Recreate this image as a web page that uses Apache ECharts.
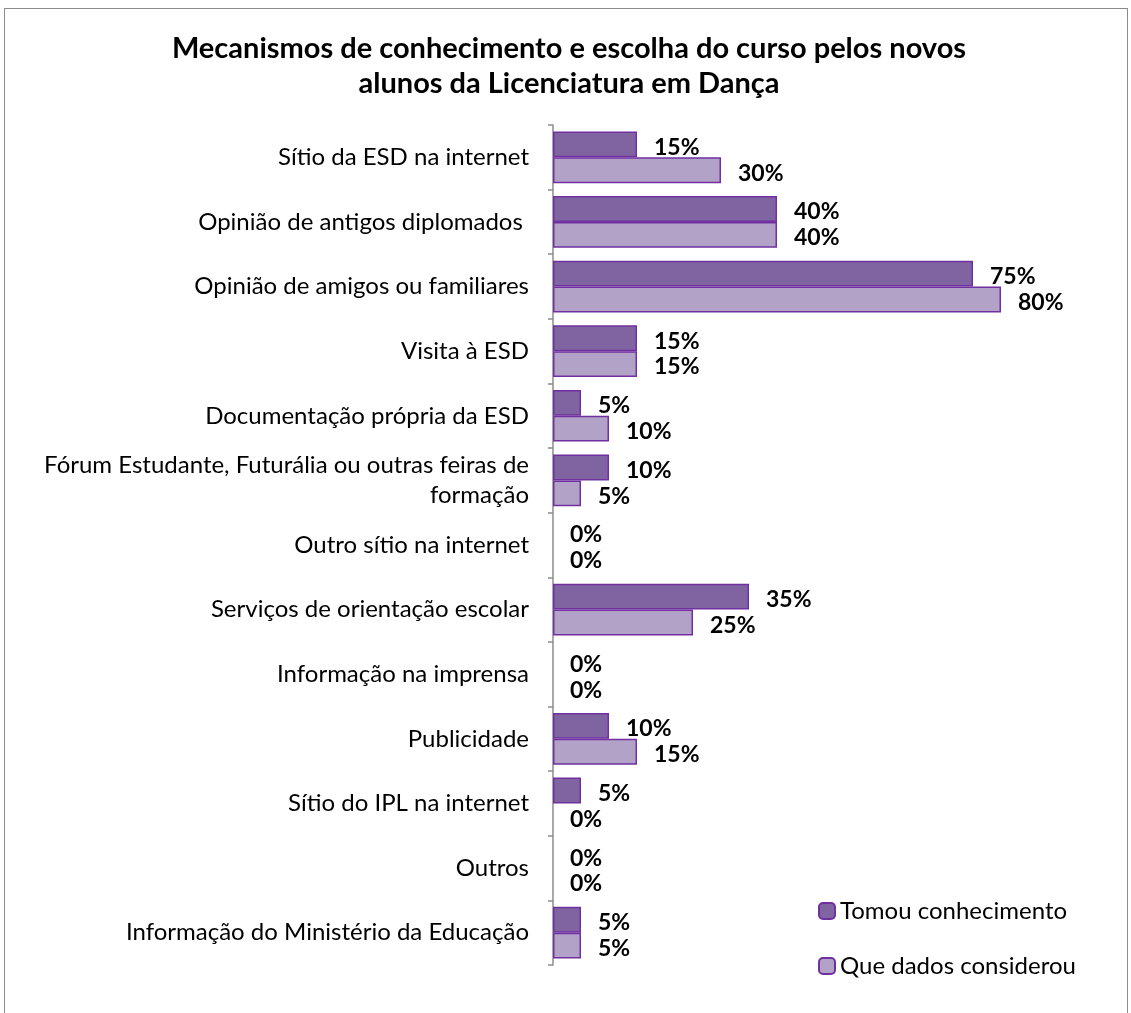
<!DOCTYPE html>
<html>
<head>
<meta charset="utf-8">
<script src="https://cdn.jsdelivr.net/npm/echarts@6/dist/echarts.min.js"></script>
<style>
  html, body { margin: 0; padding: 0; background: #fff; }
  #frame { position: absolute; left: 4px; top: 8px; width: 1124px; height: 1010px; border: 1px solid #8c8c8c; box-sizing: border-box; }
  #chart { position: absolute; left: 0; top: 0; width: 1131px; height: 1013px; }
</style>
</head>
<body>
<div id="frame"></div>
<div id="chart"></div>
<script>
// Categories, top to bottom as in the picture
const categories = [
  'Sítio da ESD na internet',
  'Opinião de antigos diplomados ',
  'Opinião de amigos ou familiares',
  'Visita à ESD',
  'Documentação própria da ESD',
  'Fórum Estudante, Futurália ou outras feiras de\nformação',
  'Outro sítio na internet',
  'Serviços de orientação escolar',
  'Informação na imprensa',
  'Publicidade',
  'Sítio do IPL na internet',
  'Outros',
  'Informação do Ministério da Educação'
];
const tomouConhecimento = [15, 40, 75, 15, 5, 10, 0, 35, 0, 10, 5, 0, 5];
const queDadosConsiderou = [30, 40, 80, 15, 10, 5, 0, 25, 0, 15, 0, 0, 5];

const chart = echarts.init(document.getElementById('chart'));
const font = 'Lato, "Open Sans", sans-serif';

// zero-length bars get no outline, like the original
const toItems = arr => arr.map(v => v === 0 ? { value: v, itemStyle: { borderWidth: 0 } } : v);

const labelStyle = {
  show: true,
  position: 'right',
  distance: 17,
  offset: [0, 3],
  formatter: '{c}%',
  color: '#000',
  fontWeight: 'bold',
  fontSize: 23,
  fontFamily: font
};

chart.setOption({
  animation: false,
  title: {
    text: 'Mecanismos de conhecimento e escolha do curso pelos novos\nalunos da Licenciatura em Dança',
    left: 564,
    textAlign: 'center',
    top: 26,
    textStyle: { fontSize: 29, fontWeight: 'bold', color: '#000', fontFamily: font, lineHeight: 35 }
  },
  legend: {
    orient: 'vertical',
    left: 813,
    top: 894,
    itemWidth: 16,
    itemHeight: 16,
    itemGap: 31,
    textStyle: { fontSize: 24, color: '#000', fontFamily: font },
    data: ['Tomou conhecimento', 'Que dados considerou']
  },
  grid: { left: 553, top: 125, width: 560, bottom: 48 },
  xAxis: {
    type: 'value',
    min: 0,
    max: 100,
    show: false
  },
  yAxis: {
    type: 'category',
    inverse: true,
    data: categories,
    axisLine: { lineStyle: { color: '#8c8c8c', width: 1.5 } },
    axisTick: { show: true, length: 5, lineStyle: { color: '#8c8c8c', width: 1.5 } },
    axisLabel: {
      margin: 24,
      fontSize: 24,
      lineHeight: 30,
      color: '#000',
      fontFamily: font,
      align: 'right'
    }
  },
  series: [
    {
      name: 'Tomou conhecimento',
      type: 'bar',
      data: toItems(tomouConhecimento),
      barGap: '0%',
      barCategoryGap: '20%',
      itemStyle: { color: '#8064A2', borderColor: '#7030A0', borderWidth: 1.5 },
      label: labelStyle
    },
    {
      name: 'Que dados considerou',
      type: 'bar',
      data: toItems(queDadosConsiderou),
      barGap: '0%',
      barCategoryGap: '20%',
      itemStyle: { color: '#B3A2C7', borderColor: '#7030A0', borderWidth: 1.5 },
      label: labelStyle
    }
  ]
});
</script>
</body>
</html>
